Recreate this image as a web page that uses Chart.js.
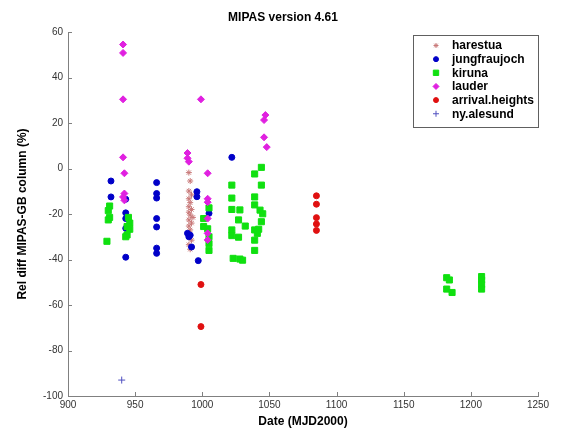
<!DOCTYPE html>
<html>
<head>
<meta charset="utf-8">
<title>MIPAS version 4.61</title>
<script src="https://cdn.jsdelivr.net/npm/chart.js@4.4.1/dist/chart.umd.min.js"></script>
<style>
  html, body { margin: 0; padding: 0; background: #fff; }
  canvas { display: block; }
</style>
</head>
<body>
<canvas id="mipasChart" width="573" height="432"></canvas>
<script>
// Station data: date (MJD2000) and relative difference MIPAS - ground based (%)
const harestuaDate = [990, 991, 990, 992, 990, 991, 990, 992, 990, 991, 993, 990, 992, 990, 991, 990, 992, 990, 991];
const harestuaDiff = [-1.8, -5.5, -9.9, -11.6, -13.3, -15, -16.8, -18, -19.2, -20.5, -21.5, -22.6, -24, -25.3, -27, -28.5, -31.5, -33.5, -35.5];

const jungfraujochDate = [932, 932, 943, 943, 943, 943, 943, 966, 966, 966, 966, 966, 966, 966, 989, 990, 991, 992, 996, 996, 997, 1005, 1022];
const jungfraujochDiff = [-5.5, -12.5, -13.5, -19.5, -22, -26.3, -39, -6.2, -11, -13, -22, -25.7, -35, -37.3, -28.5, -30, -29.3, -34.5, -10.2, -12.4, -40.5, -19.7, 4.9];

const kirunaDate = [931, 930, 931, 930, 929, 945, 946, 944, 946, 944, 943,
  1001, 1001, 1005, 1004, 1005, 1005, 1005,
  1022, 1022, 1022, 1022, 1022, 1023, 1028, 1027, 1027, 1028, 1030, 1032,
  1039, 1039, 1039, 1039, 1039, 1039, 1044, 1044, 1043, 1045, 1044, 1042, 1041,
  1182, 1184, 1182, 1186, 1208, 1208, 1208, 1208];
const kirunaDiff = [-16.5, -18.5, -21.5, -22.6, -32, -21.5, -24, -25.5, -26.7, -29.2, -30,
  -22, -25.5, -17.3, -26.5, -30, -33, -36,
  -7.3, -13, -18, -27, -29.5, -39.5, -18.2, -22.6, -30.2, -39.8, -40.3, -25.3,
  -2.4, -12.5, -16, -27, -31.5, -36, 0.5, -7.3, -18.3, -19.9, -23.4, -26.7, -28.5,
  -48, -49, -53, -54.5, -47.5, -49, -51, -53];

const lauderDate = [941, 941, 941, 941, 942, 942, 941, 942, 989, 989, 990, 999, 1004, 1004, 1004, 1004, 1004, 1004, 1047, 1046, 1046, 1048];
const lauderDiff = [54.5, 50.8, 30.4, 4.9, -2.1, -11, -12.5, -14, 6.8, 4.5, 3, 30.4, -2.1, -13.3, -14.8, -22, -28.5, -31.4, 23.5, 21.3, 13.7, 9.4];

const arrivalDate = [999, 999, 1085, 1085, 1085, 1085, 1085];
const arrivalDiff = [-51, -69.5, -12, -15.7, -21.6, -24.4, -27.2];

const alesundDate = [940];
const alesundDiff = [-93];

const xTickValues = [900, 950, 1000, 1050, 1100, 1150, 1200, 1250];
const yTickValues = [-100, -80, -60, -40, -20, 0, 20, 40, 60];

const FONT = 'Arial, "Liberation Sans", sans-serif';

function toPoints(xs, ys) {
  return xs.map((x, i) => ({ x: x, y: ys[i] }));
}

function series(label, xs, ys, colour, style, radius, order) {
  return {
    label: label,
    data: toPoints(xs, ys),
    pointStyle: style,
    pointRadius: radius,
    pointHoverRadius: radius,
    pointBackgroundColor: colour,
    pointBorderColor: colour,
    pointBorderWidth: 1,
    backgroundColor: colour,
    borderColor: colour,
    showLine: false,
    order: order
  };
}

// small tick marks pointing into the plot, like the original
const inwardTicks = {
  id: 'inwardTicks',
  afterDraw(chart) {
    const ctx = chart.ctx;
    const area = chart.chartArea;
    const xs = chart.scales.x, ys = chart.scales.y;
    ctx.save();
    ctx.strokeStyle = '#808080';
    ctx.lineWidth = 1;
    ctx.beginPath();
    xTickValues.forEach(v => {
      const px = Math.round(xs.getPixelForValue(v)) + 0.5;
      ctx.moveTo(px, area.bottom);
      ctx.lineTo(px, area.bottom - 4);
    });
    yTickValues.forEach(v => {
      const py = Math.round(ys.getPixelForValue(v)) + 0.5;
      ctx.moveTo(area.left, py);
      ctx.lineTo(area.left + 4, py);
    });
    ctx.stroke();
    ctx.restore();
  }
};

// boxed legend in the top right corner of the plot
const legendBox = {
  id: 'legendBox',
  afterDraw(chart) {
    const ctx = chart.ctx;
    const area = chart.chartArea;
    const boxW = 125, boxH = 92;
    const left = Math.round(area.right - boxW) + 0.5;
    const top = Math.round(area.top + 3) + 0.5;
    ctx.save();
    ctx.fillStyle = '#fff';
    ctx.fillRect(left, top, boxW, boxH);
    ctx.strokeStyle = '#606060';
    ctx.lineWidth = 1;
    ctx.strokeRect(left, top, boxW, boxH);
    const sets = chart.data.datasets;
    ctx.font = 'bold 12px ' + FONT;
    ctx.textBaseline = 'middle';
    sets.forEach((ds, i) => {
      const y = top + 10 + i * 13.65;
      const mx = left + 22.5;
      ctx.fillStyle = ds.pointBackgroundColor;
      ctx.strokeStyle = ds.pointBorderColor;
      ctx.lineWidth = 1;
      if (Chart.helpers && Chart.helpers.drawPoint) {
        Chart.helpers.drawPoint(ctx, {
          pointStyle: ds.pointStyle,
          radius: Math.max(ds.pointRadius - 0.5, 2.5),
          rotation: 0,
          borderWidth: 1
        }, mx, y);
      } else {
        ctx.beginPath();
        ctx.arc(mx, y, 2.5, 0, Math.PI * 2);
        ctx.fill();
      }
      ctx.fillStyle = '#000';
      ctx.fillText(ds.label, left + 38.5, y + 0.5);
    });
    ctx.restore();
  }
};

const ctx = document.getElementById('mipasChart').getContext('2d');
const mipasChart = new Chart(ctx, {
  type: 'scatter',
  data: {
    datasets: [
      series('harestua', harestuaDate, harestuaDiff, '#c87878', 'star', 3, 6),
      series('jungfraujoch', jungfraujochDate, jungfraujochDiff, '#0000c8', 'circle', 3, 5),
      series('kiruna', kirunaDate, kirunaDiff, '#10e010', 'rect', 4.3, 4),
      series('lauder', lauderDate, lauderDiff, '#e020e0', 'rectRot', 3.5, 3),
      series('arrival.heights', arrivalDate, arrivalDiff, '#e01010', 'circle', 3, 2),
      series('ny.alesund', alesundDate, alesundDiff, '#5050c0', 'cross', 3.5, 1)
    ]
  },
  options: {
    responsive: false,
    animation: false,
    devicePixelRatio: 1,
    layout: { padding: { left: 0, right: 7, top: 0, bottom: 0 } },
    plugins: {
      legend: { display: false },
      tooltip: { enabled: false },
      title: {
        display: true,
        text: 'MIPAS version 4.61',
        color: '#000',
        font: { family: FONT, size: 12, weight: 'bold' },
        padding: { top: 10, bottom: 7.6 }
      }
    },
    scales: {
      x: {
        type: 'linear',
        position: 'bottom',
        min: 900,
        max: 1250,
        afterBuildTicks: scale => { scale.ticks = xTickValues.map(v => ({ value: v })); },
        afterFit: scale => { scale.height = 36; },
        grid: { display: true, drawOnChartArea: false, drawTicks: false },
        border: { display: true, color: '#808080', width: 1 },
        ticks: {
          padding: 3,
          color: '#333',
          font: { family: FONT, size: 10 },
          maxRotation: 0,
          autoSkip: false,
          callback: v => String(v)
        },
        title: {
          display: true,
          text: 'Date (MJD2000)',
          color: '#000',
          font: { family: FONT, size: 12, weight: 'bold' },
          padding: { top: 0, bottom: 3 }
        }
      },
      y: {
        type: 'linear',
        min: -100,
        max: 60,
        afterBuildTicks: scale => { scale.ticks = yTickValues.map(v => ({ value: v })); },
        afterFit: scale => { scale.width = 68; },
        grid: { display: true, drawOnChartArea: false, drawTicks: false },
        border: { display: true, color: '#808080', width: 1 },
        ticks: {
          padding: 5,
          color: '#333',
          font: { family: FONT, size: 10 },
          autoSkip: false,
          callback: v => String(v)
        },
        title: {
          display: true,
          text: 'Rel diff MIPAS-GB column (%)',
          color: '#000',
          font: { family: FONT, size: 12, weight: 'bold' },
          padding: { top: 15, bottom: 0 }
        }
      },
      // empty right-hand axis that only reserves the blank margin
      yRight: {
        type: 'linear',
        position: 'right',
        min: -100,
        max: 60,
        afterFit: scale => { scale.width = 28; },
        grid: { display: false, drawTicks: false },
        border: { display: false },
        ticks: { display: false }
      }
    }
  },
  plugins: [inwardTicks, legendBox]
});
</script>
</body>
</html>
